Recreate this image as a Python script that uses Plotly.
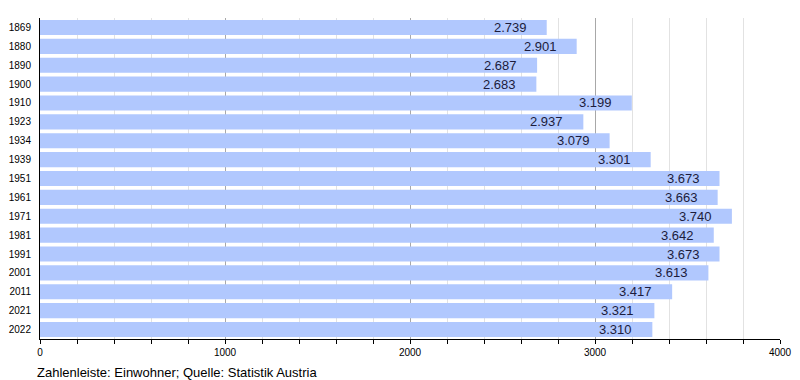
import plotly.graph_objects as go

years = ["1869", "1880", "1890", "1900", "1910", "1923", "1934", "1939", "1951",
         "1961", "1971", "1981", "1991", "2001", "2011", "2021", "2022"]
population = [2739, 2901, 2687, 2683, 3199, 2937, 3079, 3301, 3673,
              3663, 3740, 3642, 3673, 3613, 3417, 3321, 3310]
labels = [f"{v:,}".replace(",", ".") for v in population]
x_ticks = [0, 1000, 2000, 3000, 4000]
caption = "Zahlenleiste: Einwohner; Quelle: Statistik Austria"

FONT = "Liberation Sans, Arial, Helvetica, sans-serif"

fig = go.Figure(go.Bar(
    x=population, y=years, orientation="h",
    marker=dict(color="#b1c8fe", line=dict(width=0)),
    width=0.8,
    hoverinfo="x+y",
))

# category axis: annotation positions use the category index
value_annotations = [
    dict(x=v, y=i, text=t, xref="x", yref="y", xanchor="right", yanchor="middle",
         xshift=-18, showarrow=False, font=dict(family=FONT, size=13, color="#1c1c3c"))
    for i, (v, t) in enumerate(zip(population, labels))
]

caption_annotation = dict(
    text=caption, xref="paper", yref="paper", x=-0.007, y=-0.103,
    xanchor="left", yanchor="middle", showarrow=False,
    font=dict(family=FONT, size=13, color="black"),
)

fig.update_layout(
    width=800, height=380,
    margin=dict(l=32, r=28, t=10, b=49, autoexpand=False),
    paper_bgcolor="white", plot_bgcolor="white",
    font=dict(family=FONT, color="black"),
    showlegend=False,
    xaxis=dict(
        range=[0, 4000], tickvals=x_ticks, ticktext=[str(v) for v in x_ticks],
        showgrid=True, gridcolor="#a8a8a8", gridwidth=1,
        minor=dict(dtick=200, showgrid=True, gridcolor="#e2e2e2", gridwidth=1,
                   ticks="outside", ticklen=4, tickcolor="black"),
        ticks="outside", ticklen=4, tickcolor="black",
        showline=True, linecolor="black", linewidth=1,
        zeroline=False, tickfont=dict(size=10), automargin=False,
    ),
    yaxis=dict(
        type="category", categoryorder="array", categoryarray=years,
        range=[len(years) - 0.5, -0.5],
        showgrid=False, showline=True, linecolor="black", linewidth=1,
        ticks="", tickfont=dict(size=10), ticklabelstandoff=6, automargin=False,
    ),
    annotations=value_annotations + [caption_annotation],
)

fig.write_html("out.html")
